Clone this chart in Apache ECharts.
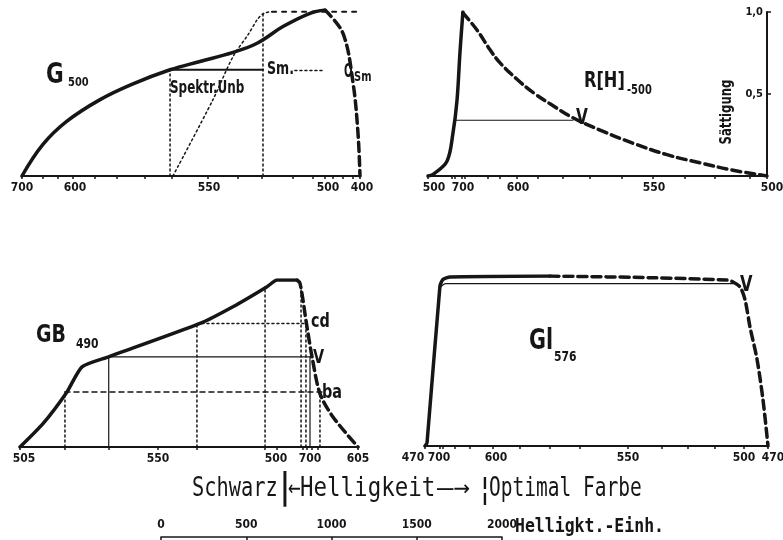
<!DOCTYPE html>
<html><head><meta charset="utf-8">
<script src="https://cdn.jsdelivr.net/npm/echarts@6.0.0/dist/echarts.min.js"></script>
<style>html,body{margin:0;padding:0;background:#fff}#chart{width:783px;height:540px}</style>
</head><body><div id="chart"></div>
<script>
// ---------------- data: x = Helligkeit units (0..2000), y = Sättigung (0..1) ----------------
// Panel G500
const g500TickValues = [0,124,213,302,432,562,728,888,1101,1278,1420,1604,1722,1793,1840,1899,1959,2000];
const g500LabelValues = [0,314,1107,1811,2000];
const g500Labels = ['700','600','550','500','400'];
const g500Curve = [[0,0],[124,0.19],[266,0.33],[462,0.46],[657,0.555],[876,0.64],[1053,0.69],[1249,0.745],[1391,0.80],[1544,0.90],[1704,0.98],[1793,1.0]];
const g500Optimal = [[1793,1.0],[1899,0.86],[1959,0.56],[1988,0.26],[2000,0]];
const g500SpektrUnb = [[876,0.64],[1426,0.64]];
const g500SmLevel = [[1615,0.635],[1775,0.635]];
const g500DropA = [[876,0],[876,0.64]];
const g500DropB = [[1426,0],[1426,0.99]];
const g500Diagonal = [[893,0],[1130,0.46],[1249,0.72],[1337,0.85],[1391,0.94],[1430,0.98],[1480,0.99]];
const g500Top = [[1480,0.99],[4396,0.99]];

// Panel R[H]-500
const rhTickValues = [0,142,159,201,218,354,425,525,649,796,956,1145,1327,1516,1693,1899,2000];
const rhLabelValues = [0,206,531,1333,2000];
const rhLabels = ['500','700','600','550','500'];
const rhCurve = [[0,0],[30,0.01],[112,0.09],[147,0.26],[171,0.46],[189,0.76],[206,1.0]];
const rhOptimal = [[206,0.995],[289,0.89],[366,0.77],[425,0.69],[525,0.59],[619,0.51],[720,0.44],[855,0.355],[1015,0.28],[1209,0.20],[1410,0.13],[1605,0.08],[1800,0.035],[2000,0]];
const rhLevelV = [[158,0.34],[855,0.34]];

// Panel GB490
const gbTickValues = [0,266,525,817,1047,1450,1521,1675,1698,1728,1763,2000];
const gbLabelValues = [0,817,1515,1716,2000];
const gbLabels = ['505','550','500','700','605'];
const gbCurve = [[0,0],[136,0.14],[278,0.33],[367,0.48],[525,0.54],[1065,0.74],[1260,0.84],[1462,0.96],[1521,1.0],[1639,1.0]];
const gbOptimal = [[1639,1.0],[1657,0.98],[1698,0.72],[1728,0.54],[1775,0.32],[1852,0.18],[2000,0]];
const gbLevelBa = [[266,0.33],[1805,0.33]];
const gbLevelV = [[525,0.54],[1728,0.54]];
const gbLevelCd = [[1047,0.74],[1690,0.74]];
const gbDotDrops = [[[266,0],[266,0.33]],[[1047,0],[1047,0.74]],[[1450,0],[1450,0.96]],[[1663,0],[1663,0.97]],[[1692,0],[1692,0.74]],[[1775,0],[1775,0.32]]];
const gbSolidDrops = [[[525,0],[525,0.54]],[[1716,0],[1716,0.54]]];

// Panel Gl576
const glTickValues = [0,87,105,175,262,397,551,727,902,1184,1382,1534,1690,1860,2000];
const glLabelValues = [0,82,414,1184,1860,2000];
const glLabels = ['470','700','600','550','500','470'];
const glCurve = [[0,0],[12,0.02],[87,0.94],[105,0.98],[146,0.994],[729,1.0]];
const glOptimal = [[729,1.0],[1312,0.99],[1761,0.976],[1796,0.965],[1837,0.935],[1866,0.86],[1895,0.70],[1936,0.51],[1971,0.27],[2000,0]];
const glLevelV = [[87,0.93],[122,0.955],[1796,0.955]];

// Helligkeit scale
const hellTickValues = [0,500,1000,1500,2000];
const hellLabels = ['0','500','1000','1500','2000'];

// ---------------- styling / layout ----------------
const INK = '#161616';
const F = '"DejaVu Sans Condensed", "DejaVu Sans", sans-serif';
const M = '"DejaVu Sans Mono", "Liberation Mono", monospace';
function rs(p){return {padding:p,fontFamily:F,fontWeight:'bold',fontSize:12,color:INK};}
const RICH = { l12:rs([0,24,0,0]), r6:rs([0,0,0,12]), r5:rs([0,0,0,10]), r4:rs([0,0,0,8]), r2:rs([0,0,0,4]) };
function nearest(arr, v){let b=0;for(let i=1;i<arr.length;i++){if(Math.abs(arr[i]-v)<Math.abs(arr[b]-v))b=i;}return b;}
function waveAxis(gi, ticks, labelVals, labels, shifts){
  return {
    gridIndex:gi, type:'value', min:0, max:2000,
    axisLine:{show:true,onZero:false,lineStyle:{color:INK,width:2}},
    axisTick:{show:true,customValues:ticks,length:3,lineStyle:{color:INK,width:1.5}},
    axisLabel:{show:true,customValues:labelVals,margin:6,color:INK,fontFamily:F,fontWeight:'bold',fontSize:12,
      formatter:(v)=>{const i=nearest(labelVals,v);const s=shifts[i];return s?('{'+s+'|'+labels[i]+'}'):labels[i];},
      rich:RICH},
    splitLine:{show:false}
  };
}
function hiddenY(gi){return {gridIndex:gi,type:'value',min:0,max:1,show:false};}
const thick={width:3.5}, dash={width:3.5,type:[9,5]}, dot={width:1.5,type:[2,3]}, thin={width:1.2}, sdash={width:1.5,type:[5,4]}, tdash={width:2,type:[4,6]};
function L(gi,data,ls,extra){
  return Object.assign({type:'line',xAxisIndex:gi,yAxisIndex:gi,data:data,symbol:'none',silent:true,animation:false,
    lineStyle:Object.assign({color:INK,cap:'round',join:'round'},ls),z:2},extra||{});
}
const series = [
  L(0,g500Curve,thick,{smooth:0.4,z:4}),
  L(0,g500Optimal,dash,{smooth:0.35,z:4}),
  L(0,g500SpektrUnb,{width:2},{z:3}),
  L(0,g500SmLevel,dot),
  L(0,g500DropA,dot),
  L(0,g500DropB,dot),
  L(0,g500Diagonal,dot,{smooth:0.3}),
  L(0,g500Top,tdash,{clip:false}),
  L(1,rhCurve,thick,{smooth:0.35,z:4}),
  L(1,rhOptimal,dash,{smooth:0.4,z:4}),
  L(1,rhLevelV,thin),
  L(2,gbCurve,thick,{smooth:0.2,z:4}),
  L(2,gbOptimal,dash,{smooth:0.3,z:4}),
  L(2,gbLevelBa,sdash),
  L(2,gbLevelV,thin),
  L(2,gbLevelCd,dot),
  L(3,glCurve,thick,{smooth:0.2,z:4}),
  L(3,glOptimal,dash,{smooth:0.3,z:4}),
  L(3,glLevelV,thin,{smooth:0.3})
];
gbDotDrops.forEach(d=>series.push(L(2,d,dot)));
gbSolidDrops.forEach(d=>series.push(L(2,d,thin)));

function txt(x,y,text,size,opt){
  opt=opt||{};
  return {type:'text',x:x,y:y,scaleY:opt.sy||1.2,scaleX:opt.sx||1,rotation:opt.rot||0,silent:true,z:10,
    style:{text:text,fontFamily:opt.f||F,fontWeight:opt.w||'bold',fontSize:size,fill:INK,align:opt.align||'left',verticalAlign:opt.va||'top'}};
}
const graphics = [
  txt(46,61,'G',24), txt(68,77,'500',11,{sy:1.1}),
  txt(170,80,'Spektr.Unb',14,{sy:1.25,sx:0.95}),
  txt(267,61,'Sm.',14),
  txt(344,62,'O',16,{sx:0.7}), txt(354,71,'Sm',11),
  txt(584,71,'R[H]',18), txt(627,84,'-500',11),
  txt(576,108,'V',17),
  txt(727,112,'Sättigung',13,{rot:Math.PI/2,align:'center',va:'middle',sy:1.15}),
  txt(36,323,'GB',21), txt(76,337,'490',12),
  txt(311,312,'cd',16), txt(313,348,'V',16), txt(322,383,'ba',16),
  txt(529,328,'Gl',23), txt(554,350,'576',12),
  txt(740,275,'V',18),
  txt(192,475,'Schwarz',21,{f:M,w:'normal',sy:1.3,sx:0.97}),
  txt(280,471,'|',30,{w:'bold',sy:1.2}),
  txt(288,475,'←',21,{f:M,w:'normal',sy:1.3,sx:1.0}),
  txt(300,475,'Helligkeit',21,{f:M,w:'normal',sy:1.3,sx:1.07}),
  txt(437,475,'—→',21,{f:M,w:'normal',sy:1.3,sx:1.3}),
  txt(481,476,'¦',24,{w:'bold',sy:1.3}),
  txt(489,475,'Optimal Farbe',21,{f:M,w:'normal',sy:1.3,sx:0.93}),
  txt(515,517,'Helligkt.-Einh.',16.5,{f:M,w:'bold',sy:1.15,sx:1.0})
];

const option = {
  animation:false,
  backgroundColor:'#ffffff',
  grid:[
    {left:22,top:10,width:338,height:166,outerBoundsMode:'none'},
    {left:428,top:12,width:339,height:164,outerBoundsMode:'none'},
    {left:20,top:280,width:338,height:167,outerBoundsMode:'none'},
    {left:425,top:276,width:343,height:170,outerBoundsMode:'none'},
    {left:161,top:517,width:341,height:20,outerBoundsMode:'none'}
  ],
  xAxis:[
    waveAxis(0,g500TickValues,g500LabelValues,g500Labels,[null,null,null,null,'r2']),
    waveAxis(1,rhTickValues,rhLabelValues,rhLabels,['r6',null,null,null,'r5']),
    waveAxis(2,gbTickValues,gbLabelValues,gbLabels,['r4',null,null,null,null]),
    waveAxis(3,glTickValues,glLabelValues,glLabels,['l12',null,null,null,null,'r5']),
    {gridIndex:4,type:'value',min:0,max:2000,
      axisLine:{show:true,onZero:false,lineStyle:{color:INK,width:1.5}},
      axisTick:{show:true,customValues:hellTickValues,length:3,lineStyle:{color:INK,width:1.5}},
      axisLabel:{show:true,inside:true,customValues:hellTickValues,margin:6,color:INK,fontFamily:F,fontWeight:'bold',fontSize:12,
        formatter:(v)=>hellLabels[nearest(hellTickValues,v)]},
      splitLine:{show:false}}
  ],
  yAxis:[
    hiddenY(0),
    {gridIndex:1,type:'value',min:0,max:1,interval:0.5,position:'right',
      axisLine:{show:true,onZero:false,lineStyle:{color:INK,width:2}},
      axisTick:{show:true,length:4,lineStyle:{color:INK,width:1.5}},
      axisLabel:{show:true,inside:true,margin:4,showMinLabel:false,color:INK,fontFamily:F,fontWeight:'bold',fontSize:11,
        formatter:(v)=>v===1?'1,0':(v===0.5?'0,5':'')},
      splitLine:{show:false}},
    hiddenY(2), hiddenY(3), hiddenY(4)
  ],
  series:series,
  graphic:graphics
};
const chart = echarts.init(document.getElementById('chart'),null,{renderer:'canvas'});
chart.setOption(option);
</script>
</body></html>
